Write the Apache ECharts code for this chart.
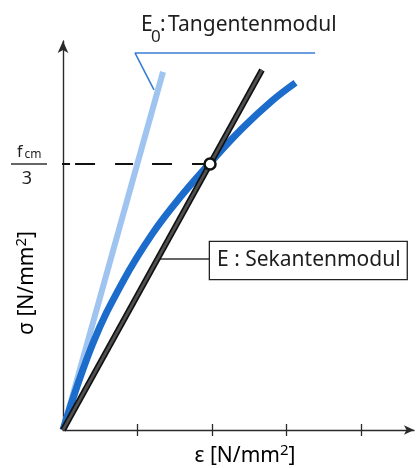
<!DOCTYPE html>
<html>
<head>
<meta charset="utf-8">
<script src="https://cdn.jsdelivr.net/npm/echarts@6/dist/echarts.min.js"></script>
<style>
html,body{margin:0;padding:0;background:#fff;}
#c{width:418px;height:468px;}
</style>
</head>
<body>
<div id="c"></div>
<script>
// ---- data (x: strain units, y: stress in units of fcm/3) ----
const xTickValues = [1, 2, 3, 4];
const curveX = [0, 0.4, 0.8, 1.2, 1.6, 2.0, 2.4, 2.8, 3.12];
const curveY = [0, 0.325, 0.556, 0.738, 0.884, 1.012, 1.132, 1.236, 1.305];
const tangentX = [0, 1.342];
const tangentY = [0, 1.346];
const secantX = [0, 2.67];
const secantY = [0, 1.353];
const pointX = [1.973];
const pointY = [1.0];
const levelX = [-0.08, 1.973];
const levelY = [1.0, 1.0];
const e0LeaderX = [1.221, 0.966, 3.383];
const e0LeaderY = [1.278, 1.417, 1.417];
const secLeaderX = [1.30, 1.973];
const secLeaderY = [0.643, 0.643];

const zip = (xs, ys) => xs.map((x, i) => [x, ys[i]]);

const chart = echarts.init(document.getElementById('c'), null, {renderer: 'canvas'});
const FONT = '"Noto Sans", "Open Sans", sans-serif';
const FAM = 'Noto Sans';
const TXT = '#1e1e1e';

const unitRich = {
  a: {fontFamily: FAM, fontSize: 21, lineHeight: 26, color: TXT, verticalAlign: 'middle'},
  s: {fontFamily: FAM, fontSize: 15, lineHeight: 15, color: TXT, verticalAlign: 'top'}
};

const option = {
  animation: false,
  backgroundColor: '#fff',
  grid: {left: 63, right: 4, top: 41, bottom: 38, containLabel: false, outerBoundsMode: 'none'},
  xAxis: [{
    type: 'value', min: 0, max: 4.71, interval: 1, position: 'bottom',
    axisLine: {show: true, lineStyle: {color: '#2a2a2a', width: 1.4}, symbol: ['none', 'arrow'], symbolSize: [7, 10]},
    axisTick: {show: true, customValues: xTickValues, length: 6, lineStyle: {color: '#2a2a2a', width: 1.3}},
    axisLabel: {show: false}, splitLine: {show: false}
  }, {
    type: 'value', min: 0, max: 4.71, interval: 1, position: 'bottom',
    axisLine: {show: false},
    axisTick: {show: true, inside: true, customValues: xTickValues, length: 6, lineStyle: {color: '#2a2a2a', width: 1.3}},
    axisLabel: {show: false}, splitLine: {show: false}
  }],
  yAxis: {
    type: 'value', min: 0, max: 1.462,
    axisLine: {show: true, lineStyle: {color: '#2a2a2a', width: 1.4}, symbol: ['none', 'arrow'], symbolSize: [8, 12]},
    axisTick: {show: false}, axisLabel: {show: false}, splitLine: {show: false}
  },
  series: [
    {type: 'line', data: zip(tangentX, tangentY), symbol: 'none', clip: false, z: 2,
     lineStyle: {color: '#9fc4ef', width: 6}},
    {type: 'line', data: zip(levelX, levelY), symbol: 'none', clip: false, z: 3,
     lineStyle: {color: '#111', width: 2, type: [13, 5, 20, 20, 18, 19, 20, 20, 20, 20]}},
    {type: 'line', data: zip(curveX, curveY), symbol: 'none', smooth: 0.4, clip: false, z: 4,
     lineStyle: {color: '#1c6ccb', width: 7}},
    {type: 'line', data: zip(secantX, secantY), symbol: 'none', clip: false, z: 5,
     lineStyle: {color: '#111', width: 6}},
    {type: 'line', data: zip(secantX, secantY), symbol: 'none', clip: false, z: 6,
     lineStyle: {color: '#505050', width: 2.6}},
    {type: 'line', data: zip(e0LeaderX, e0LeaderY), symbol: 'none', clip: false, z: 3,
     lineStyle: {color: '#3b7fd4', width: 1.6}},
    {type: 'line', data: zip(secLeaderX, secLeaderY), symbol: 'none', clip: false, z: 3,
     lineStyle: {color: '#333', width: 1.5}},
    {type: 'scatter', data: zip(pointX, pointY), symbol: 'circle', symbolSize: 11, z: 10,
     itemStyle: {color: '#ffffff', borderColor: '#111', borderWidth: 2.5, opacity: 1}}
  ],
  graphic: [
    {type: 'text', x: 141, y: 25, style: {text: 'E', font: '21px ' + FONT, fill: TXT, align: 'left', verticalAlign: 'middle'}},
    {type: 'text', x: 151, y: 37, style: {text: '0', font: '17px ' + FONT, fill: TXT, align: 'left', verticalAlign: 'middle'}},
    {type: 'text', x: 160, y: 25, style: {text: ':', font: '21px ' + FONT, fill: TXT, align: 'left', verticalAlign: 'middle'}},
    {type: 'text', x: 168, y: 25, style: {text: 'Tangentenmodul', font: '21px ' + FONT, fill: TXT, align: 'left', verticalAlign: 'middle'}},
    {type: 'text', x: 210, y: 242, z: 20, style: {text: 'E : Sekantenmodul', font: '21px ' + FONT, fill: TXT,
      align: 'left', verticalAlign: 'top', padding: [7, 6, 7, 7], lineHeight: 23,
      backgroundColor: '#fff', borderColor: '#222', borderWidth: 1.3}},
    {type: 'text', x: 17, y: 152, style: {text: 'f', font: '16px ' + FONT, fill: TXT, align: 'left', verticalAlign: 'middle'}},
    {type: 'text', x: 24.5, y: 155, style: {text: 'cm', font: '12px ' + FONT, fill: TXT, align: 'left', verticalAlign: 'middle'}},
    {type: 'line', shape: {x1: 11, y1: 164, x2: 47, y2: 164}, style: {stroke: '#333', lineWidth: 1.3}},
    {type: 'text', x: 27, y: 178.5, style: {text: '3', font: '18px ' + FONT, fill: TXT, align: 'center', verticalAlign: 'middle'}},
    {type: 'text', x: 27, y: 283, rotation: Math.PI / 2, style: {text: '{a|σ [N/mm}{s|2}{a|]}', rich: unitRich, align: 'center', verticalAlign: 'middle'}},
    {type: 'text', x: 245, y: 456, style: {text: '{a|ε [N/mm}{s|2}{a|]}', rich: unitRich, align: 'center', verticalAlign: 'middle'}}
  ]
};
chart.setOption(option);
</script>
</body>
</html>
